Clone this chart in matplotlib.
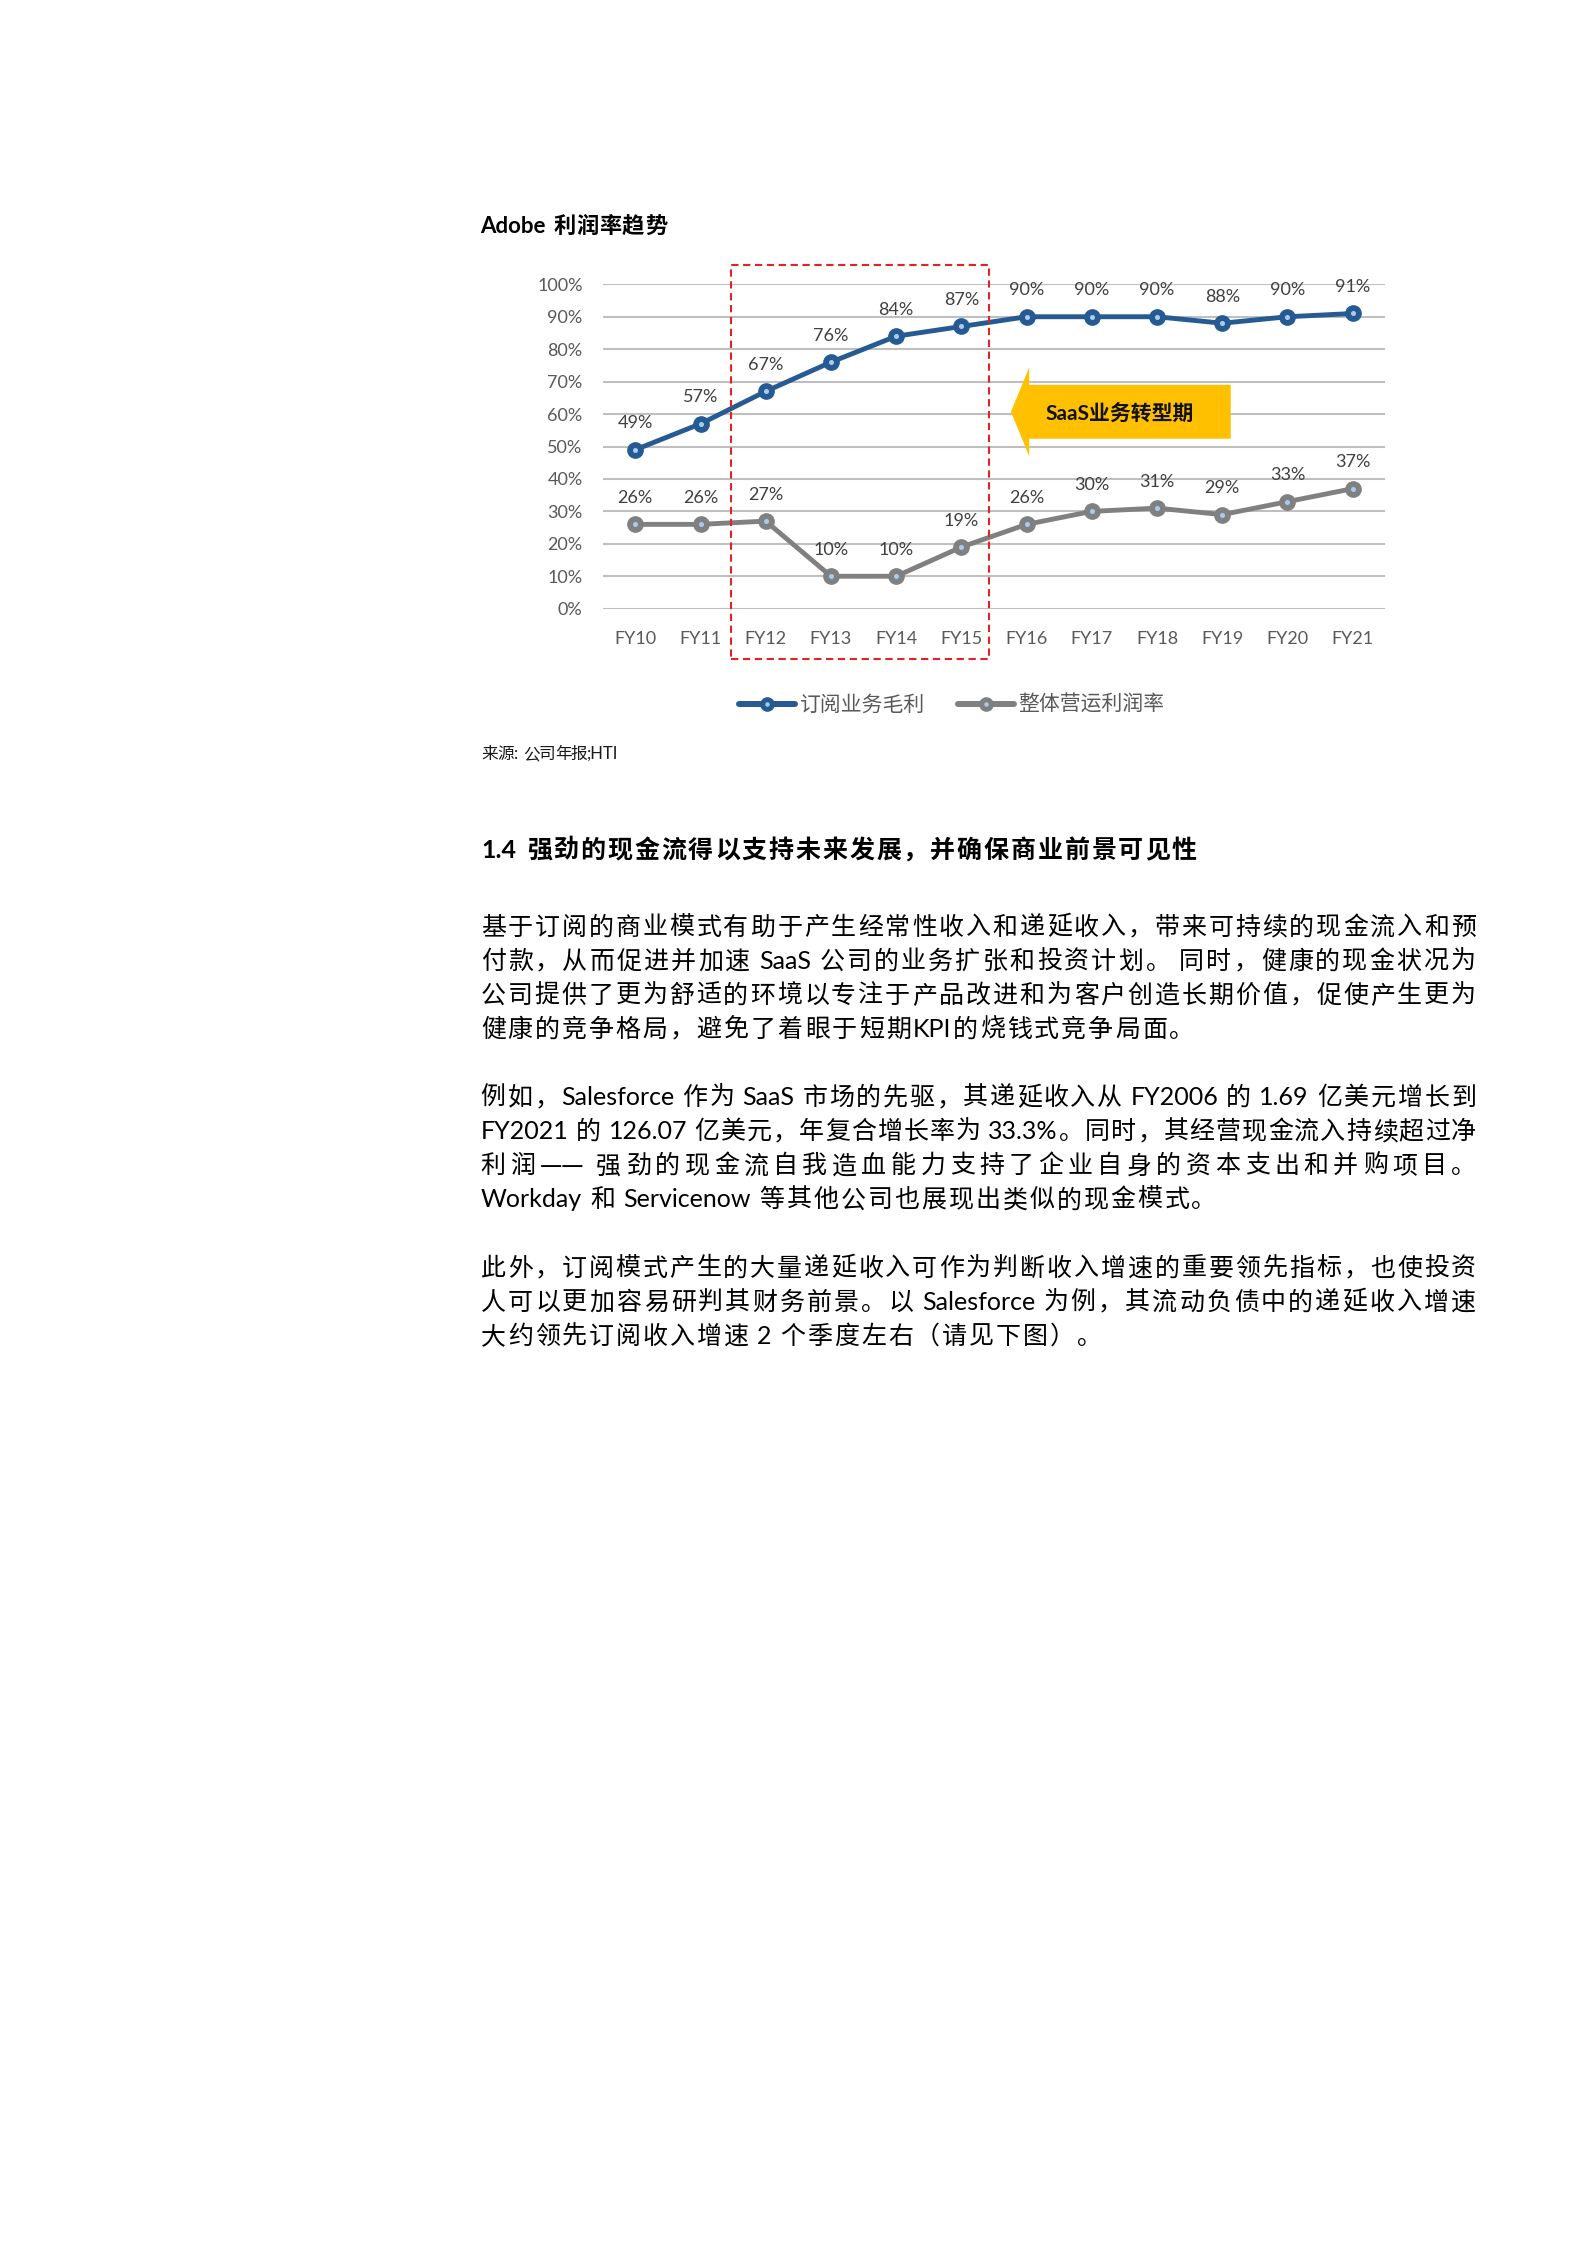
import matplotlib
matplotlib.use('Agg')
import matplotlib.pyplot as plt
from matplotlib.patches import Rectangle, Polygon
from matplotlib.lines import Line2D

plt.rcParams['font.family'] = ['Lato', 'Noto Sans CJK SC', 'DejaVu Sans']

# 数据
years = ['FY10', 'FY11', 'FY12', 'FY13', 'FY14', 'FY15',
         'FY16', 'FY17', 'FY18', 'FY19', 'FY20', 'FY21']
sub_gross_margin = [49, 57, 67, 76, 84, 87, 90, 90, 90, 88, 90, 91]
op_margin = [26, 26, 27, 10, 10, 19, 26, 30, 31, 29, 33, 37]
series_names = ['订阅业务毛利', '整体营运利润率']
y_ticks = list(range(0, 101, 10))

title = 'Adobe 利润率趋势'
source = '来源: 公司年报;HTI'
arrow_text = 'SaaS业务转型期'
heading = '1.4 强劲的现金流得以支持未来发展，并确保商业前景可见性'
paragraphs = [
    ['基于订阅的商业模式有助于产生经常性收入和递延收入，带来可持续的现金流入和预',
     '付款，从而促进并加速 SaaS 公司的业务扩张和投资计划。 同时，健康的现金状况为',
     '公司提供了更为舒适的环境以专注于产品改进和为客户创造长期价值，促使产生更为',
     '健康的竞争格局，避免了着眼于短期KPI的烧钱式竞争局面。'],
    ['例如，Salesforce 作为 SaaS 市场的先驱，其递延收入从 FY2006 的 1.69 亿美元增长到',
     'FY2021 的 126.07 亿美元，年复合增长率为 33.3%。同时，其经营现金流入持续超过净',
     '利润——强劲的现金流自我造血能力支持了企业自身的资本支出和并购项目。',
     'Workday 和 Servicenow 等其他公司也展现出类似的现金模式。'],
    ['此外，订阅模式产生的大量递延收入可作为判断收入增速的重要领先指标，也使投资',
     '人可以更加容易研判其财务前景。以 Salesforce 为例，其流动负债中的递延收入增速',
     '大约领先订阅收入增速 2 个季度左右（请见下图）。'],
]

BLUE = '#265A93'
GRAY = '#808080'
DOT = '#A9CCEB'

W, H = 1587, 2244
fig = plt.figure(figsize=(W / 100, H / 100), dpi=100)


def fx(px):
    return px / W


def fy(py):
    return 1 - py / H


# ---- 图表 ----
ax = fig.add_axes([fx(602.7), fy(608.7), (1385.3 - 602.7) / W, (608.7 - 284.3) / H])
x = list(range(len(years)))

for vals, col in [(sub_gross_margin, BLUE), (op_margin, GRAY)]:
    ax.plot(x, vals, color=col, lw=3.5, marker='o', ms=11, mfc=col, mec=col,
            solid_joinstyle='round', zorder=3, clip_on=False)
    ax.plot(x, vals, ls='none', marker='o', ms=2.6, mfc=DOT, mec=DOT, zorder=4, clip_on=False)
    for i, v in enumerate(vals):
        ax.annotate(f'{v}%', (i, v), xytext=(0, 15.5), textcoords='offset points',
                    ha='center', va='baseline', fontsize=13, color='#404040', zorder=5)

ax.set_xlim(-0.5, len(years) - 0.5)
ax.set_ylim(0, 100)
ax.set_xticks(x)
ax.set_xticklabels(years)
ax.set_yticks(y_ticks)
ax.set_yticklabels([f'{v}%' for v in y_ticks])
ax.grid(axis='y', color='#BFBFBF', lw=1.5)
ax.set_axisbelow(True)
for s in ax.spines.values():
    s.set_visible(False)
ax.tick_params(axis='both', length=0, labelsize=13, labelcolor='#595959')
ax.tick_params(axis='y', pad=14.4)
ax.tick_params(axis='x', pad=16)

# 转型期红色虚线框
box_l, box_r, box_b, box_t = 1.46, 5.42, -15.5, 105.8
ax.add_patch(Rectangle((box_l, box_b), box_r - box_l, box_t - box_b, fill=False,
                       ec='#E02424', lw=1.5, ls=(0, (3.5, 2.2)), clip_on=False, zorder=6))

# 黄色箭头
tip_x, head_x, body_r = 5.76, 6.04, 9.13
arr_y, head_half, body_half = 60.7, 13.7, 8.3
ax.add_patch(Polygon([(tip_x, arr_y), (head_x, arr_y + head_half), (head_x, arr_y + body_half),
                      (body_r, arr_y + body_half), (body_r, arr_y - body_half),
                      (head_x, arr_y - body_half), (head_x, arr_y - head_half)],
                     closed=True, fc='#FFC000', ec='none', zorder=2.5))
ax.text(7.43, 60.2, arrow_text, ha='center', va='center', fontsize=15,
        fontweight='bold', color='#111111', zorder=6)

# 图例
handles = [(Line2D([], [], color=c, lw=4.3, marker='o', ms=9.5, solid_capstyle='round'),
            Line2D([], [], ls='none', marker='o', ms=2.2, mfc=DOT, mec=DOT))
           for c in (BLUE, GRAY)]
fig.legend(handles, series_names, loc='center', bbox_to_anchor=(fx(952), fy(705)),
           ncol=2, frameon=False, fontsize=15, handlelength=2.7, handletextpad=0.2,
           columnspacing=1.6, labelcolor='#595959')

# ---- 文字 ----
renderer = fig.canvas.get_renderer()


def measure(s, size, weight):
    t = fig.text(0, 0, s, fontsize=size, fontweight=weight)
    w = t.get_window_extent(renderer).width
    t.remove()
    return w


def tokenize(s):
    toks, word = [], ''
    for ch in s:
        if ord(ch) < 128 and ch != ' ':
            word += ch
            continue
        if word:
            toks.append(('w', word))
            word = ''
        if ch == ' ':
            toks.append(('s', ch))
        elif ch == '—' and toks and toks[-1][0] == 'd':
            toks[-1] = ('d', toks[-1][1] + ch)
        elif ch == '—':
            toks.append(('d', ch))
        else:
            toks.append(('c', ch))
    if word:
        toks.append(('w', word))
    return toks


def draw_line(s, yc, left, right=None, size=18, weight='normal', color='#000000', adv=1.0):
    em = size * 100 / 72
    space = measure('a a', size, weight) - measure('aa', size, weight)
    items = []  # (text, width, space_before, family)
    pending = 0.0
    for kind, t in tokenize(s):
        if kind == 's':
            pending += space
            continue
        if kind == 'c':
            w, fam = em * adv, None
        elif kind == 'd':
            w, fam = em * adv * len(t), 'Noto Sans CJK SC'
        else:
            w, fam = measure(t, size, weight) + 2, None
        items.append((t, w, pending if items else 0.0, fam))
        pending = 0.0
    natural = sum(w + sp for _, w, sp, _ in items)
    extra = 0.0
    if right is not None and len(items) > 1:
        extra = (right - left - natural) / (len(items) - 1)
    xpos = left
    for k, (t, w, sp, fam) in enumerate(items):
        if k > 0:
            xpos += sp + extra
        kw = {'family': fam} if fam else {}
        fig.text(fx(xpos), fy(yc + 0.38 * em), t, fontsize=size, fontweight=weight,
                 va='baseline', color=color, **kw)
        xpos += w


draw_line(title, 225, 480, 667, size=16, weight='bold')
draw_line(source, 752.7, 481.7, 620, size=12, color='#1a1a1a')
draw_line(heading, 848.3, 481.7, 1197, size=18, weight='bold')

LEFT, RIGHT = 480.7, 1478
LINE0, STEP = 925, 34.1
row = 0
for lines in paragraphs:
    for j, line in enumerate(lines):
        last = j == len(lines) - 1
        draw_line(line, LINE0 + STEP * row, LEFT, None if last else RIGHT, adv=1.08)
        row += 1
    row += 1

fig.savefig('out.png', dpi=100, facecolor='white')
